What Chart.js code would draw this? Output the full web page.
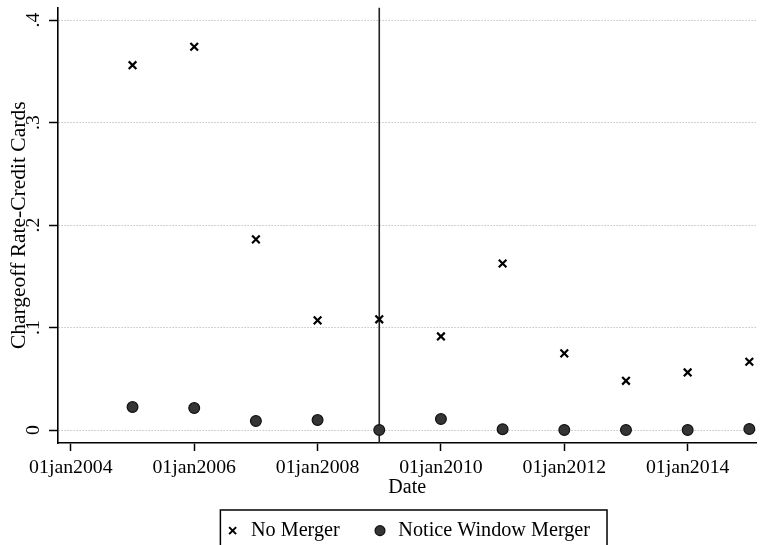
<!DOCTYPE html>
<html>
<head>
<meta charset="utf-8">
<script src="https://cdn.jsdelivr.net/npm/chart.js@4/dist/chart.umd.min.js"></script>
<style>
  html, body { margin: 0; padding: 0; background: #fff; overflow: hidden; }
  #wrap { width: 764px; height: 545px; position: relative; }
</style>
</head>
<body>
<div id="wrap"><canvas id="c" width="764" height="545"></canvas></div>
<script>
// ---- data ----
const years = [2005, 2006, 2007, 2008, 2009, 2010, 2011, 2012, 2013, 2014, 2015];
const noMerger = [0.356, 0.374, 0.186, 0.107, 0.108, 0.0913, 0.1625, 0.0748, 0.048, 0.0562, 0.0666];
const noticeWindowMerger = [0.0224, 0.0214, 0.0088, 0.0097, 0.0, 0.0107, 0.0008, 0.0, 0.0, 0.0, 0.001];
const xTickYears = [2004, 2006, 2008, 2010, 2012, 2014];
const yTickValues = [0, 0.1, 0.2, 0.3, 0.4];
const yTickLabels = ['0', '.1', '.2', '.3', '.4'];
const eventYear = 2009;
const seriesNames = ['No Merger', 'Notice Window Merger'];
const xTitle = 'Date';
const yTitle = 'Chargeoff Rate-Credit Cards';

const X_MIN = 2003.7915, X_MAX = 2015.1146;
const Y_MIN = -0.01267, Y_MAX = 0.41218;

const SERIF = '"Liberation Serif", "Times New Roman", serif';

const toPts = (vals) => years.map((x, i) => ({ x, y: vals[i] }));

const legendBoxPlugin = {
  id: 'legendBox',
  afterDraw(chart) {
    const lg = chart.legend;
    if (!lg || !lg.legendHitBoxes || !lg.legendHitBoxes.length) return;
    const hb = lg.legendHitBoxes;
    const first = hb[0], last = hb[hb.length - 1];
    const left = first.left - 4;
    const right = last.left + last.width + 17;
    const top = first.top + first.height / 2 - 20.5;
    const ctx = chart.ctx;
    ctx.save();
    ctx.strokeStyle = '#000';
    ctx.lineWidth = 1.5;
    ctx.beginPath();
    ctx.moveTo(left, chart.height + 10);
    ctx.lineTo(left, top);
    ctx.lineTo(right, top);
    ctx.lineTo(right, chart.height + 10);
    ctx.stroke();
    ctx.restore();
  }
};

new Chart(document.getElementById('c'), {
  type: 'scatter',
  data: {
    datasets: [
      {
        label: seriesNames[0],
        data: toPts(noMerger),
        pointStyle: 'crossRot',
        pointRadius: 5.4,
        pointBorderWidth: 2.2,
        borderColor: '#000',
        backgroundColor: '#000',
        order: 1
      },
      {
        label: seriesNames[1],
        data: toPts(noticeWindowMerger),
        pointStyle: 'circle',
        pointRadius: 5.4,
        pointBorderWidth: 1.2,
        borderColor: '#111',
        backgroundColor: '#353535',
        order: 2
      },
      {
        label: 'event',
        type: 'line',
        data: [{ x: eventYear, y: Y_MIN }, { x: eventYear, y: Y_MAX }],
        borderColor: '#222',
        borderWidth: 1.6,
        pointRadius: 0,
        showLine: true,
        order: 3
      }
    ]
  },
  options: {
    responsive: false,
    animation: false,
    devicePixelRatio: 1,
    layout: { padding: { top: 7, left: 0, right: 0, bottom: 0 } },
    plugins: {
      tooltip: { enabled: false },
      legend: {
        position: 'bottom',
        fullSize: false,
        maxHeight: 56.5,
        labels: {
          filter: (item) => item.datasetIndex < 2,
          usePointStyle: true,
          boxWidth: 16.5,
          boxHeight: 7,
          padding: 32,
          color: '#000',
          font: { family: SERIF, size: 20.2 },
          generateLabels: (chart) => {
            const ds = chart.data.datasets;
            return [0, 1].map(i => ({
              text: ds[i].label,
              datasetIndex: i,
              pointStyle: ds[i].pointStyle,
              fillStyle: ds[i].backgroundColor,
              strokeStyle: ds[i].borderColor,
              lineWidth: i === 0 ? 2 : 1.2,
              fontColor: '#000',
              hidden: false
            }));
          }
        }
      }
    },
    scales: {
      x: {
        type: 'linear',
        min: X_MIN,
        max: X_MAX,
        afterBuildTicks: (axis) => { axis.ticks = xTickYears.map(v => ({ value: v })); },
        afterFit: (axis) => { axis.height = 45.5; axis.paddingLeft = 0; axis.paddingRight = 0; },
        ticks: {
          callback: (v) => '01jan' + v,
          color: '#000',
          font: { family: SERIF, size: 19.8 },
          padding: 5,
          maxRotation: 0,
          autoSkip: false
        },
        grid: {
          drawOnChartArea: false,
          drawTicks: true,
          tickLength: 8,
          tickColor: '#000',
          tickWidth: 1.5,
          color: '#000'
        },
        border: { display: true, color: '#000', width: 1.6 },
        title: {
          display: true,
          text: xTitle,
          color: '#000',
          font: { family: SERIF, size: 20 },
          padding: { top: 0, bottom: -11.5 }
        }
      },
      y: {
        type: 'linear',
        min: Y_MIN,
        max: Y_MAX,
        afterBuildTicks: (axis) => { axis.ticks = yTickValues.map(v => ({ value: v })); },
        afterFit: (axis) => { axis.width = 58; axis.paddingTop = 0; axis.paddingBottom = 0; },
        ticks: {
          callback: (v) => {
            const i = yTickValues.findIndex(t => Math.abs(t - v) < 1e-9);
            return i >= 0 ? yTickLabels[i] : '';
          },
          color: '#000',
          font: { family: SERIF, size: 19.8 },
          minRotation: 90,
          maxRotation: 90,
          crossAlign: 'center',
          padding: 8,
          autoSkip: false
        },
        grid: {
          drawOnChartArea: true,
          drawTicks: true,
          tickLength: 9,
          tickColor: '#000',
          tickWidth: 1.5,
          color: '#a8a8a8',
          lineWidth: 1
        },
        border: { display: true, color: '#000', width: 1.6, dash: [1, 2] },
        title: {
          display: true,
          text: yTitle,
          color: '#000',
          font: { family: SERIF, size: 21.5 },
          padding: { top: 6, bottom: 0 }
        }
      }
    }
  },
  plugins: [legendBoxPlugin]
});
</script>
</body>
</html>
